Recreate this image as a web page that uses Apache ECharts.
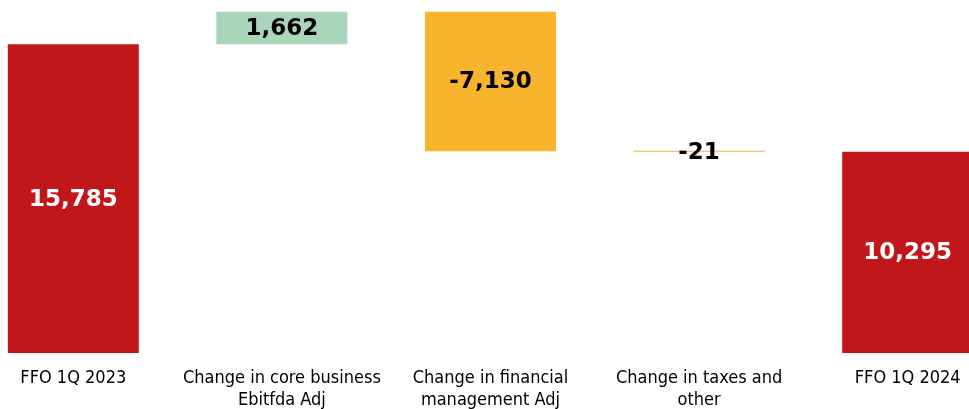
<!DOCTYPE html>
<html><head><meta charset="utf-8">
<script src="https://cdn.jsdelivr.net/npm/echarts@6/dist/echarts.min.js"></script>
<style>html,body{margin:0;padding:0;background:#fff;overflow:hidden}#wrap{width:969px;height:409px;overflow:hidden;position:relative}#c{position:absolute;left:-31px;top:0;width:1043px;height:409px}</style>
</head><body><div id="wrap"><div id="c"></div></div>
<script>
var categories = ['FFO 1Q 2023', 'Change in core business\nEbitfda Adj', 'Change in financial\nmanagement Adj', 'Change in taxes and\nother', 'FFO 1Q 2024'];
var startValue = 15785;
var changes = [1662, -7130, -21];
var endValue = 10295;
var yMax = 18000;

var RED = '#C2171A', GREEN = '#A9D5BB', ORANGE = '#F9B42E';
var base = [0], bars = [], labels = [], colors = [], labelColors = [];
bars.push(startValue); labels.push(startValue); colors.push(RED); labelColors.push('#fff');
var run = startValue;
changes.forEach(function (c) {
  var lo = c >= 0 ? run : run + c;
  base.push(lo);
  bars.push(Math.abs(c));
  labels.push(c);
  colors.push(c >= 0 ? GREEN : ORANGE);
  labelColors.push('#000');
  run += c;
});
base.push(0); bars.push(endValue); labels.push(endValue); colors.push(RED); labelColors.push('#fff');

function fmt(v) { return (v < 0 ? '-' : '') + Math.abs(v).toLocaleString('en-US'); }

var chart = echarts.init(document.getElementById('c'));
chart.setOption({
  animation: false,
  grid: { left: 0, right: 0, top: 1, bottom: 56, outerBoundsMode: 'none', containLabel: false },
  xAxis: {
    type: 'category', data: categories,
    axisLine: { show: false }, axisTick: { show: false },
    axisLabel: { interval: 0, color: '#000', fontFamily: 'DejaVu Sans Condensed', fontSize: 18, lineHeight: 21.5, margin: 15 }
  },
  yAxis: { type: 'value', min: 0, max: yMax, show: false, splitLine: { show: false } },
  series: [
    { type: 'bar', stack: 'w', data: base, itemStyle: { color: 'transparent' }, barWidth: 131, silent: true },
    {
      type: 'bar', stack: 'w', barWidth: 131, barMinHeight: 1,
      data: bars.map(function (v, i) {
        return {
          value: v,
          itemStyle: { color: colors[i] },
          label: { color: labelColors[i], offset: v < 100 ? [0, 2] : [0, 1] }
        };
      }),
      label: {
        show: true, position: 'inside',
        fontFamily: 'DejaVu Sans', fontWeight: 'bold', fontSize: 23,
        formatter: function (p) { return fmt(labels[p.dataIndex]); }
      }
    }
  ]
});
</script></body></html>
